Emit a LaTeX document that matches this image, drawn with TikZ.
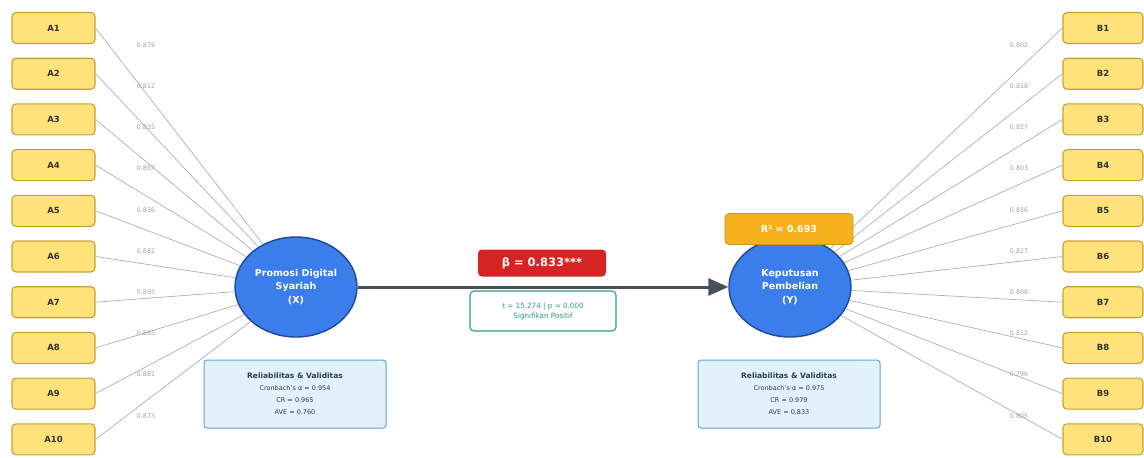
\documentclass[tikz,border=0pt]{standalone}
\usepackage{fontspec}
\setmainfont{DejaVu Sans}
\usetikzlibrary{arrows.meta,shapes.geometric}
\definecolor{indf}{HTML}{FFE27A}
\definecolor{indb}{HTML}{C9A132}
\definecolor{latf}{HTML}{3B7DEB}
\definecolor{latb}{HTML}{1D4A9C}
\definecolor{relf}{HTML}{E3F1FC}
\definecolor{relb}{HTML}{5EA6DC}
\definecolor{reltx}{HTML}{2C3E50}
\definecolor{betaf}{HTML}{D62424}
\definecolor{r2f}{HTML}{F6B21E}
\definecolor{statc}{HTML}{2A9D7F}
\definecolor{arrc}{HTML}{4A5058}
\definecolor{loadc}{HTML}{A8B0BC}
\begin{document}
\begin{tikzpicture}[x=1pt,y=-1pt,
  indbox/.style={draw=indb, fill=indf, rounded corners=4pt, line width=1.1pt,
    minimum width=83pt, minimum height=31pt, inner sep=0pt,
    font=\fontsize{8.5}{9}\selectfont\bfseries, text=black!80},
  latent/.style={ellipse, draw=latb, fill=latf, line width=1.4pt,
    minimum width=122pt, minimum height=100pt, inner sep=0pt, align=center,
    text=white, font=\fontsize{9.5}{13.5}\selectfont\bfseries},
  loadline/.style={draw=loadc, line width=0.7pt},
  loadlbl/.style={font=\fontsize{6.3}{7}\selectfont, text=gray!75, inner sep=1pt},
  relbox/.style={draw=relb, fill=relf, rounded corners=3pt, line width=1pt,
    minimum width=182pt, minimum height=68pt, align=center, text=reltx,
    font=\fontsize{6.5}{12}\selectfont},
]
\useasboundingbox (0,0) rectangle (1144,458);

% latent constructs
\node[latent] (X) at (296,287) {Promosi Digital\\Syariah\\(X)};
\node[latent] (Y) at (790,287) {Keputusan\\Pembelian\\(Y)};

% indicators left
\foreach \i/\l [evaluate=\i as \yy using 28+(\i-1)*45.7,
                evaluate=\i as \ly using 45+(\i-1)*41.2] in
   {1/0.879,2/0.812,3/0.835,4/0.867,5/0.836,6/0.882,7/0.895,8/0.865,9/0.881,10/0.873}{
  \node[indbox] (A\i) at (53.5,\yy) {A\i};
  \draw[loadline] (A\i.east) -- (X);
  \node[loadlbl] (LA\i) at (146,\ly) {\l};
}
% indicators right
\foreach \i/\l [evaluate=\i as \yy using 28+(\i-1)*45.7,
                evaluate=\i as \ly using 45+(\i-1)*41.2] in
   {1/0.802,2/0.818,3/0.827,4/0.803,5/0.816,6/0.827,7/0.808,8/0.812,9/0.796,10/0.805}{
  \node[indbox, minimum width=80pt] (B\i) at (1103,\yy) {B\i};
  \draw[loadline] (B\i.west) -- (Y);
  \node[loadlbl] (LB\i) at (1019,\ly) {\l};
}

% structural path
\draw[draw=arrc, line width=3pt, -{Triangle[length=20pt,width=17pt]}] (X) -- (Y);

\node[fill=betaf, rounded corners=4pt, minimum width=128pt, minimum height=27pt,
  text=white, font=\fontsize{11.5}{12}\selectfont\bfseries] (beta) at (542,263)
  {β = 0.833***};
\node[draw=statc, fill=white, rounded corners=4pt, line width=1.1pt,
  minimum width=146pt, minimum height=40pt, align=center, text=statc,
  font=\fontsize{7.2}{10}\selectfont] (stat) at (543,311)
  {t = 15.274 | p = 0.000\\Signifikan Positif};

% R2
\node[draw=r2f!85!black, fill=r2f, rounded corners=4pt, line width=0.8pt,
  minimum width=128pt, minimum height=31pt, text=white,
  font=\fontsize{9.5}{10}\selectfont\bfseries] (r2) at (789,229) {R² = 0.693};

% reliability boxes
\node[relbox] (relX) at (295,394)
  {{\bfseries\fontsize{7.5}{12}\selectfont Reliabilitas \& Validitas}\\Cronbach's α = 0.954\\CR = 0.965\\AVE = 0.760};
\node[relbox] (relY) at (789,394)
  {{\bfseries\fontsize{7.5}{12}\selectfont Reliabilitas \& Validitas}\\Cronbach's α = 0.975\\CR = 0.979\\AVE = 0.833};
\end{tikzpicture}
\end{document}
